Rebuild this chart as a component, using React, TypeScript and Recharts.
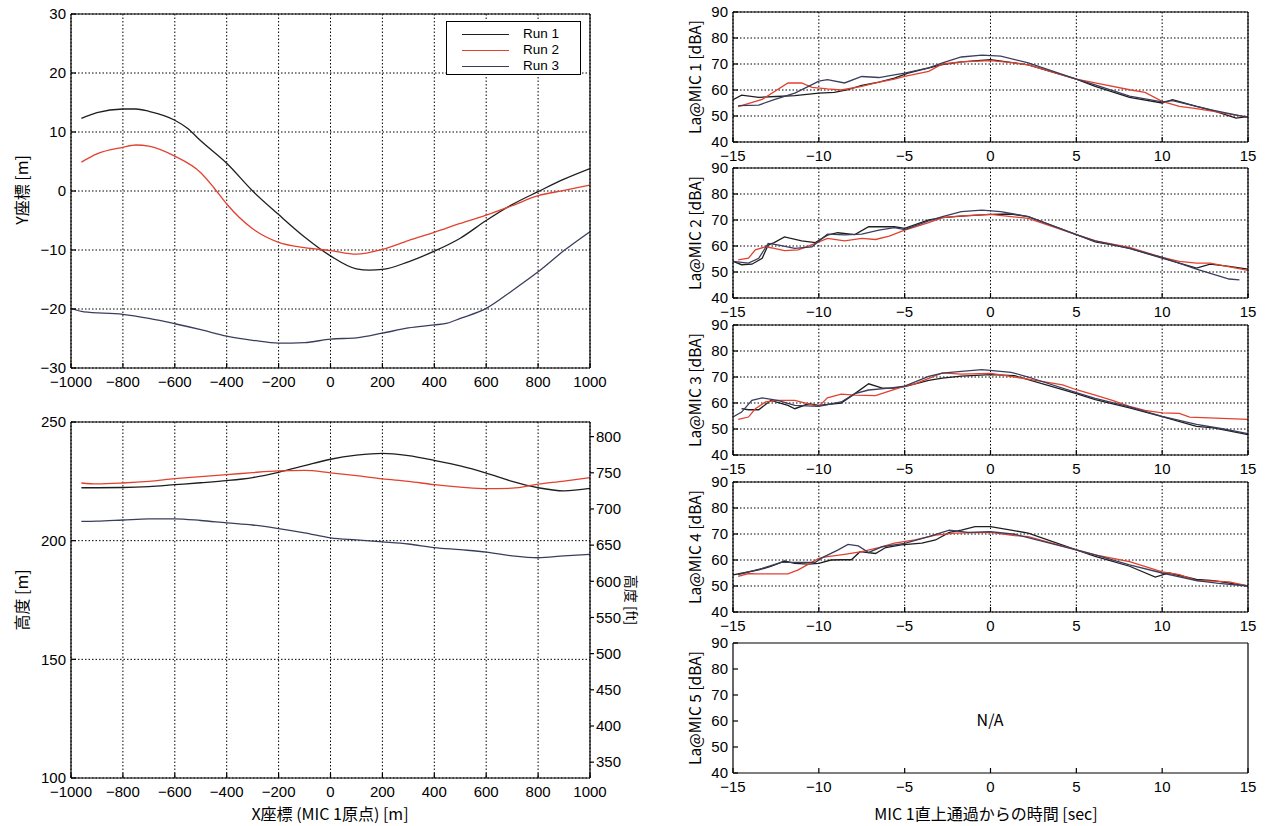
import React from "react";
import { LineChart, Line, XAxis, YAxis, CartesianGrid, Legend } from "recharts";

const FONT = '"Noto Sans CJK JP", "Noto Sans", sans-serif';
const NUM_FONT = '"Liberation Sans", Arial, sans-serif';
const C1 = "#1e1e1e";
const C2 = "#e2412f";
const C3 = "#3a3e5e";

// ---- flight path (Y coordinate vs X) ----
const posTicks = [-1000, -800, -600, -400, -200, 0, 200, 400, 600, 800, 1000];
const yTicksPath = [-30, -20, -10, 0, 10, 20, 30];

const path1X = [-960, -900, -800, -750, -700, -600, -550, -500, -400, -300, -200, -100, 0, 100, 150, 200, 300, 400, 500, 600, 700, 800, 900, 1000];
const path1Y = [12.3, 13.3, 13.9, 13.9, 13.5, 12, 10.6, 8.5, 4.7, 0, -4, -7.8, -11, -13.2, -13.4, -13.3, -12, -10.2, -8, -5, -2.3, -0.1, 2, 3.8];
const path2X = [-960, -900, -800, -750, -700, -600, -500, -450, -400, -300, -200, -100, 0, 100, 200, 300, 400, 500, 600, 700, 800, 900, 1000];
const path2Y = [4.9, 6.3, 7.4, 7.8, 7.6, 5.9, 3.1, 0.6, -2.2, -6.4, -8.7, -9.6, -10.1, -10.7, -9.9, -8.4, -7, -5.5, -4.1, -2.5, -0.8, 0.1, 1];
const path3X = [-1000, -950, -800, -700, -600, -500, -400, -300, -200, -100, 0, 100, 200, 300, 400, 450, 500, 600, 700, 800, 900, 1000];
const path3Y = [-19.9, -20.5, -20.9, -21.6, -22.5, -23.5, -24.6, -25.3, -25.8, -25.7, -25.1, -24.9, -24.1, -23.2, -22.7, -22.4, -21.6, -19.9, -16.9, -13.7, -10.1, -6.9];

// ---- altitude ----
const altTicks = [100, 150, 200, 250];
const ftTicks = [350, 400, 450, 500, 550, 600, 650, 700, 750, 800];
const altX = [-960, -900, -800, -700, -600, -500, -400, -300, -200, -100, 0, 100, 200, 300, 400, 500, 600, 700, 800, 900, 1000];
const alt1 = [222.3, 222.3, 222.4, 222.8, 223.6, 224.4, 225.3, 226.6, 228.8, 231.6, 234.3, 236.0, 236.8, 235.8, 233.8, 231.5, 228.5, 225, 222.3, 221, 222];
const alt2 = [224.3, 223.9, 224.3, 225, 226.1, 227, 227.8, 228.7, 229.4, 229.6, 228.6, 227.4, 226, 225, 223.6, 222.6, 221.9, 222.1, 223.8, 225.1, 226.6];
const alt3 = [208.1, 208.2, 208.7, 209.2, 209.2, 208.5, 207.5, 206.6, 205.1, 203.3, 201.2, 200.3, 199.5, 198.6, 197.1, 196.2, 195.2, 193.6, 192.8, 193.6, 194.2];

// ---- noise levels ----
const timeTicks = [-15, -10, -5, 0, 5, 10, 15];
const dbTicks = [40, 50, 60, 70, 80, 90];

const m1r1T = [-15, -14.5, -13.5, -12.5, -11.4, -10, -9.1, -8.3, -7.5, -6.5, -5.6, -4.8, -4, -2.8, -1.7, 0, 2.2, 5, 6.1, 8.1, 10, 10.6, 12, 13, 14.3, 15];
const m1r1 = [56.3, 58, 57.2, 57.5, 57.8, 58.8, 59.1, 60.1, 61.8, 63, 64.6, 66.5, 67.8, 69.8, 70.8, 71.7, 69.7, 64.2, 61.4, 57.2, 55, 56.3, 53.7, 52, 49.2, 49.8];
const m1r2T = [-14.7, -13.3, -11.8, -11, -10.4, -9.5, -8.7, -7.5, -6.5, -5.6, -5, -3.6, -2.8, -1.7, 0, 1.4, 2.2, 5, 6.1, 8.1, 9, 10, 11, 12, 13, 15];
const m1r2 = [53.6, 56.4, 62.7, 62.7, 61, 60.4, 60, 61.4, 63, 64.2, 65.2, 67.2, 70, 70.8, 71.3, 70.4, 69.7, 64.2, 62.7, 60.1, 59.1, 55.6, 53.7, 52.8, 51.8, 49.6];
const m1r3T = [-14.7, -13.5, -12.6, -11.4, -10.6, -10, -9.5, -8.5, -7.5, -6.5, -5.6, -5, -3.6, -2.8, -1.7, -0.5, 0.6, 2.2, 5, 6.1, 8.1, 10, 10.6, 12, 13, 15];
const m1r3 = [54, 54.2, 56.3, 58.8, 61.4, 63.4, 64, 62.7, 65.2, 64.8, 65.8, 66.5, 68.5, 70.4, 72.7, 73.4, 73, 70.4, 64.2, 62, 57.6, 55.4, 55.9, 53.7, 52.2, 49.5];

const m2r1T = [-15, -14.5, -13.9, -13.3, -12.95, -12.6, -12, -11, -10.2, -9.5, -8.9, -7.9, -7.1, -5.6, -5, -3.6, -2.8, -1.7, 0, 1.2, 2.2, 5, 6.1, 7.1, 8.1, 10, 12, 12.8, 13.9, 15];
const m2r1 = [54.1, 52.8, 53, 55.3, 60.4, 61.3, 63.5, 62, 61.3, 64.2, 65.1, 64.4, 67.4, 67.4, 66.8, 70, 70.9, 71.5, 72.2, 72.3, 71.3, 64.4, 61.6, 60.4, 59.1, 55.3, 51.5, 53, 52.2, 51.1];
const m2r2T = [-14.7, -14.1, -13.7, -13.1, -12.6, -12, -11.2, -10.2, -9.5, -8.5, -7.5, -6.7, -5.9, -5, -3.6, -2.8, -1.7, 0, 2.2, 5, 6.1, 8.1, 10, 11, 12, 12.8, 15];
const m2r2 = [54.7, 55.3, 58.5, 59.7, 59.1, 58.2, 58.5, 61, 62.9, 62, 62.9, 62.5, 63.8, 66.1, 69, 70.9, 71.6, 72.2, 70.6, 64.4, 62, 59.5, 55.6, 54.1, 53.4, 53.4, 50.6];
const m2r3T = [-15, -14.1, -13.5, -12.95, -12.4, -11.4, -10.4, -9.5, -8.5, -7.5, -6.5, -5.6, -5, -3.6, -2.8, -1.7, -0.5, 0.6, 2.2, 5, 6.1, 8.1, 10, 12, 13.9, 14.5];
const m2r3 = [54.1, 53.4, 55.3, 61, 60.4, 59.1, 59.7, 64.6, 64.3, 64.6, 66.1, 67.1, 66.3, 69.7, 71.3, 73.2, 73.8, 73.2, 71.3, 64.4, 62, 59.1, 55.6, 51.1, 47.3, 47];

const m3r1T = [-14.5, -14.1, -13.5, -12.8, -11.8, -11.4, -10.6, -10, -8.7, -7.9, -7.1, -6.3, -5.6, -5, -3.6, -2.8, -1.7, 0, 1.4, 5, 6.1, 8.1, 10, 12, 13, 15];
const m3r1 = [57.8, 57.4, 57.4, 61, 59.1, 57.8, 59.7, 59.1, 60, 63.6, 67.4, 65.7, 65.7, 66.3, 68.7, 69.6, 70.3, 70.9, 70.5, 63.6, 61.3, 58.1, 54.8, 51, 50.4, 47.8];
const m3r2T = [-14.7, -14.1, -13.7, -13.1, -12.4, -11.4, -10.6, -10, -9.5, -8.7, -7.9, -6.7, -5.9, -5, -4.4, -2.8, -1.7, 0, 2.2, 4.2, 5, 6.1, 7.1, 8.1, 9, 10, 11, 11.6, 15];
const m3r2 = [53.7, 54.6, 57.8, 60.4, 61, 61, 59.7, 58.7, 62, 63.4, 63, 62.8, 64.6, 66.5, 67.4, 71.6, 71.1, 71.4, 69.2, 67, 65.1, 63, 61, 58.7, 57.2, 56.2, 56, 54.6, 53.7];
const m3r3T = [-15, -14.5, -13.9, -13.3, -12.4, -11.4, -10, -8.7, -7.9, -7.1, -5.9, -5, -3.6, -2.8, -1.7, -0.5, 1.2, 2.2, 5, 6.1, 8.1, 10, 12, 13.5, 15];
const m3r3 = [54.6, 56.5, 61, 62, 61, 59.1, 58.7, 60.4, 63.6, 65, 65.7, 66.5, 70.2, 71.5, 72.2, 72.8, 71.8, 70, 64, 61.8, 58.5, 54.9, 51.8, 50.1, 48.2];

const m4r1T = [-15, -14.5, -13.5, -12.8, -12, -11.4, -10.6, -10, -9.3, -8.7, -8.1, -7.6, -6.7, -6.1, -5.2, -4, -3.2, -2.4, -1.7, -0.9, 0, 1.2, 2.2, 5, 6.1, 8.1, 9.6, 10.4, 12, 13, 15];
const m4r1 = [54.3, 54.9, 56.2, 57.5, 59.6, 58.7, 58.4, 58.7, 60, 60.1, 60.1, 63.2, 62.5, 64.8, 65.8, 66.5, 67.7, 70.6, 71.5, 72.8, 72.8, 71.5, 70.3, 63.9, 61.4, 57.6, 53.4, 55, 52.5, 52.1, 50];
const m4r2T = [-14.7, -14.1, -13.7, -11.8, -11.2, -10.6, -10, -9.5, -8.5, -7.5, -6.5, -5.6, -4.4, -3.2, -2.1, 0, 1.4, 2.2, 5, 6.1, 8.1, 10, 11, 12, 13, 13.9, 15];
const m4r2 = [53.7, 54.8, 54.7, 54.7, 56.2, 58.4, 60.6, 61.3, 62.2, 63.2, 64.8, 66.5, 67.7, 69.6, 70.3, 70.6, 69.4, 69, 63.9, 62, 59.4, 55.4, 54.4, 52.1, 51.9, 51.6, 50];
const m4r3T = [-14.7, -13.3, -12.2, -11.4, -10.2, -9.8, -8.9, -8.3, -7.7, -7.1, -6.3, -5, -3.6, -2.4, -1.3, 0, 1.4, 5, 6.1, 8.1, 10, 12, 13.3, 15];
const m4r3 = [54.4, 56.8, 59.1, 59.1, 59.1, 60.9, 63.8, 66, 65.4, 62.9, 65.1, 66.4, 69, 71.5, 70.6, 70.9, 69.9, 63.9, 62, 58.1, 55, 52.1, 51, 50];

const runNames = ["Run 1", "Run 2", "Run 3"];
const runColors = [C1, C2, C3];

const pts = (xs: number[], ys: number[]) => xs.map((x, i) => ({ x, y: ys[i] }));
const fmt = (v: number) => String(v).replace("-", "\u2212");

type Series = { name: string; color: string; data: { x: number; y: number }[] };
const runs = (a: [number[], number[]][]): Series[] =>
  a.map(([xs, ys], i) => ({ name: runNames[i], color: runColors[i], data: pts(xs, ys) }));

const tickStyle = { fill: "#000", fontSize: 15, fontFamily: NUM_FONT };
const black = { stroke: "#000", strokeWidth: 1.2 };

interface PlotProps {
  px: number; py: number; pw: number; ph: number;
  xDomain: number[]; xTicks: number[];
  yDomain: number[]; yTicks: number[];
  series: Series[];
  grid?: boolean;
  smooth?: boolean;
  ft?: boolean;
  children?: React.ReactNode;
}

const Plot = ({ px, py, pw, ph, xDomain, xTicks, yDomain, yTicks, series, grid = true, smooth = false, ft = false, children }: PlotProps) => {
  const ML = 60, MT = 10, MB = 34, MR = ft ? 50 : 10;
  return (
    <div style={{ position: "absolute", left: px - ML, top: py - MT }}>
      <LineChart width={ML + pw + MR} height={MT + ph + MB} margin={{ top: 0, right: 0, bottom: 0, left: 0 }}>
        {grid && <CartesianGrid stroke="#000" strokeWidth={1} strokeDasharray="1.5 2" />}
        <XAxis dataKey="x" type="number" domain={xDomain} ticks={xTicks} interval={0} allowDataOverflow
          height={MB} tickSize={-5} tickMargin={13} tick={tickStyle} tickFormatter={fmt} axisLine={black} tickLine={black} />
        <XAxis xAxisId="top" orientation="top" dataKey="x" type="number" domain={xDomain} ticks={xTicks} interval={0} allowDataOverflow
          height={MT} tickSize={-5} tick={false} axisLine={black} tickLine={black} />
        <YAxis type="number" domain={yDomain} ticks={yTicks} interval={0} allowDataOverflow
          width={ML} tickSize={-5} tickMargin={10} tick={tickStyle} tickFormatter={fmt} axisLine={black} tickLine={black} />
        {ft ? (
          <YAxis yAxisId="right" orientation="right" type="number" domain={[100 * 3.28084, 250 * 3.28084]} ticks={ftTicks} interval={0} allowDataOverflow
            width={MR} tickSize={4} tickMargin={2} tick={tickStyle} axisLine={black} tickLine={black} />
        ) : (
          <YAxis yAxisId="right" orientation="right" type="number" domain={yDomain} ticks={yTicks} interval={0} allowDataOverflow
            width={MR} tickSize={-5} tick={false} axisLine={black} tickLine={black} />
        )}
        {series.map((s) => (
          <Line key={s.name} name={s.name} data={s.data} dataKey="y" stroke={s.color} strokeWidth={1.3}
            dot={false} type={smooth ? "monotone" : "linear"} isAnimationActive={false} />
        ))}
        {children}
      </LineChart>
    </div>
  );
};

const LegendBox = ({ payload }: any) => (
  <div style={{ width: 135, height: 54, boxSizing: "border-box", border: "1.2px solid #000", background: "#fff", paddingTop: 4, fontFamily: NUM_FONT, fontSize: 13.5, lineHeight: "16px", color: "#000" }}>
    {(payload || []).map((p: any) => (
      <div key={p.value} style={{ display: "flex", alignItems: "center", height: 16, lineHeight: "16px" }}>
        <span style={{ display: "inline-block", width: 47, marginLeft: 15, marginRight: 14, borderTop: `1.5px solid ${p.color}` }} />
        <span>{p.value}</span>
      </div>
    ))}
  </div>
);

const Title = ({ x, y, text, angle = 0, size = 16 }: { x: number; y: number; text: string; angle?: number; size?: number }) => (
  <div style={{ position: "absolute", left: x, top: y, transform: `translate(-50%, -50%) rotate(${angle}deg)`, whiteSpace: "nowrap", fontFamily: FONT, fontSize: size, lineHeight: 1.2, color: "#000" }}>
    {text}
  </div>
);

const micSeries: Series[][] = [
  runs([[m1r1T, m1r1], [m1r2T, m1r2], [m1r3T, m1r3]]),
  runs([[m2r1T, m2r1], [m2r2T, m2r2], [m2r3T, m2r3]]),
  runs([[m3r1T, m3r1], [m3r2T, m3r2], [m3r3T, m3r3]]),
  runs([[m4r1T, m4r1], [m4r2T, m4r2], [m4r3T, m4r3]]),
  [],
];
const panelTops = [12, 168, 325, 482, 643];

export default function App() {
  const pathSeries = runs([[path1X, path1Y], [path2X, path2Y], [path3X, path3Y]]);
  const altSeries = runs([[altX, alt1], [altX, alt2], [altX, alt3]]);
  return (
    <div style={{ position: "absolute", left: 0, top: 0, width: 1270, height: 826, background: "#fff", overflow: "hidden" }}>
      <style>{"svg.recharts-surface { overflow: visible; }"}</style>
      <Plot px={71} py={14} pw={519} ph={354} xDomain={[-1000, 1000]} xTicks={posTicks} yDomain={[-30, 30]} yTicks={yTicksPath}
        series={pathSeries} smooth>
        <Legend layout="vertical" align="center" verticalAlign="middle" content={<LegendBox />}
          wrapperStyle={{ left: 435, top: 17, width: 135, height: 54 }} />
      </Plot>
      <Title x={22} y={190} text="Y座標 [m]" angle={-90} />

      <Plot px={71} py={422} pw={519} ph={356} xDomain={[-1000, 1000]} xTicks={posTicks} yDomain={[100, 250]} yTicks={altTicks}
        series={altSeries} smooth ft />
      <Title x={22} y={600} text="高度 [m]" angle={-90} />
      <Title x={632} y={600} text="高度 [ft]" angle={90} size={14} />
      <Title x={330} y={814} text="X座標 (MIC 1原点) [m]" />

      {micSeries.map((s, i) => (
        <Plot key={i} px={733} py={panelTops[i]} pw={515} ph={130} xDomain={[-15, 15]} xTicks={timeTicks} yDomain={[40, 90]} yTicks={dbTicks}
          series={s} grid={i < 4} />
      ))}
      {panelTops.map((t, i) => (
        <Title key={i} x={694} y={t + 65} text={`La@MIC ${i + 1} [dBA]`} angle={-90} size={15.5} />
      ))}
      <Title x={990} y={720} text="N/A" size={16} />
      <Title x={986} y={814} text="MIC 1直上通過からの時間 [sec]" />
    </div>
  );
}
